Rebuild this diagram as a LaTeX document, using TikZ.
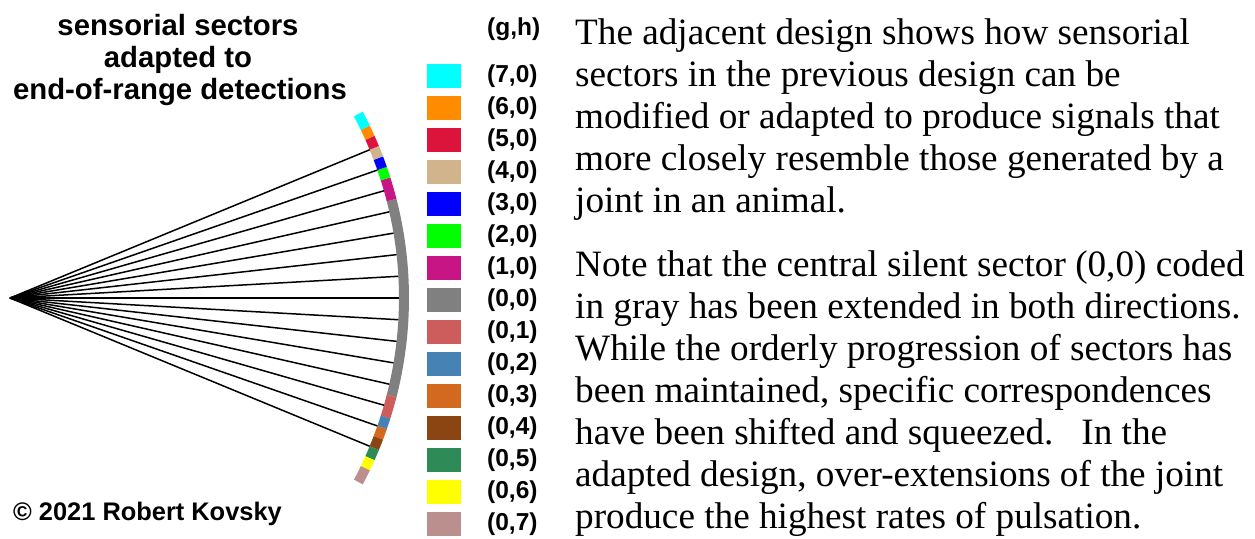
\documentclass[tikz,border=0pt]{standalone}
\usepackage{fontspec}
\setmainfont{Liberation Serif}
\newfontfamily\helv{Liberation Sans}

% sector colours
\definecolor{gCyan}{RGB}{0,255,255}
\definecolor{gOrange}{RGB}{255,140,0}
\definecolor{gCrimson}{RGB}{220,20,60}
\definecolor{gTan}{RGB}{210,180,140}
\definecolor{gBlue}{RGB}{0,0,255}
\definecolor{gLime}{RGB}{0,255,0}
\definecolor{gViolet}{RGB}{199,21,133}
\definecolor{gGray}{RGB}{128,128,128}
\definecolor{gIndian}{RGB}{205,92,92}
\definecolor{gSteel}{RGB}{70,130,180}
\definecolor{gChoc}{RGB}{210,105,30}
\definecolor{gSaddle}{RGB}{139,69,19}
\definecolor{gSea}{RGB}{46,139,87}
\definecolor{gYellow}{RGB}{255,255,0}
\definecolor{gRosy}{RGB}{188,143,143}

% one coloured piece of the sensor band, angles in degrees (positive = upward)
\newcommand\bandseg[3]{%
  \fill[#1] ({-1*(#2)}:389) arc[start angle={-1*(#2)}, end angle={-1*(#3)}, radius=389]
    -- ({-1*(#3)}:399) arc[start angle={-1*(#3)}, end angle={-1*(#2)}, radius=399] -- cycle;}

\begin{document}
\begin{tikzpicture}[x=1pt,y=-1pt,
  ray/.style={draw=black, line width=1.5pt},
  swatch/.style={minimum width=34pt, minimum height=24pt, inner sep=0pt, outer sep=0pt},
  legendlab/.style={anchor=west, inner sep=0pt, font=\helv\bfseries\fontsize{24.5}{28}\selectfont},
  titletext/.style={anchor=base, inner sep=0pt, font=\helv\bfseries\fontsize{29.3}{32}\selectfont},
  bodyline/.style={anchor=base west, inner sep=0pt, font=\fontsize{37.2}{42}\selectfont}]
\useasboundingbox (0,0) rectangle (1255,538);

% apex of the fan
\coordinate (apex) at (10,298);

% sensor band, made of coloured sectors
\begin{scope}[shift={(apex)}]
  \bandseg{gGray}{-14.4}{14.4}
  \bandseg{gViolet}{14.4}{17.6}
  \bandseg{gLime}{17.6}{19.2}
  \bandseg{gBlue}{19.2}{20.8}
  \bandseg{gTan}{20.8}{22.4}
  \bandseg{gCrimson}{22.4}{24.0}
  \bandseg{gOrange}{24.0}{25.6}
  \bandseg{gCyan}{25.6}{27.84}
  \bandseg{gIndian}{-17.6}{-14.4}
  \bandseg{gSteel}{-19.2}{-17.6}
  \bandseg{gChoc}{-20.8}{-19.2}
  \bandseg{gSaddle}{-22.4}{-20.8}
  \bandseg{gSea}{-24.0}{-22.4}
  \bandseg{gYellow}{-25.6}{-24.0}
  \bandseg{gRosy}{-27.84}{-25.6}
  \foreach \k in {-7,...,7}
    \coordinate (end\k) at ({\k*3.2}:389);
\end{scope}

% rays from the apex to the band
\foreach \k in {-7,...,7}
  \draw[ray] (apex) -- (end\k);

% title
\node[titletext] (title1) at (178,35) {sensorial sectors};
\node[titletext] (title2) at (178,67) {adapted to};
\node[titletext] (title3) at (180,99) {end-of-range detections};

% copyright
\node[anchor=base west, inner sep=0pt, font=\helv\bfseries\fontsize{25.4}{28}\selectfont] (copy) at (13,520) {© 2021 Robert Kovsky};

% legend
\node[legendlab] (lbhead) at (487,29) {(g,h)};
\foreach \c/\lab [count=\i from 0] in {gCyan/{(7,0)}, gOrange/{(6,0)}, gCrimson/{(5,0)},
    gTan/{(4,0)}, gBlue/{(3,0)}, gLime/{(2,0)}, gViolet/{(1,0)}, gGray/{(0,0)},
    gIndian/{(0,1)}, gSteel/{(0,2)}, gChoc/{(0,3)}, gSaddle/{(0,4)}, gSea/{(0,5)},
    gYellow/{(0,6)}, gRosy/{(0,7)}} {
  \node[swatch, fill=\c] (sw\i) at (444,{76+32*\i}) {};
  \node[legendlab] (lb\i) at (487,{76+32*\i}) {\lab};
}

% explanatory text
\node[bodyline] (t1) at (575,44) {The adjacent design shows how sensorial};
\node[bodyline] (t2) at (575,86) {sectors in the previous design can be};
\node[bodyline] (t3) at (575,128) {modified or adapted to produce signals that};
\node[bodyline] (t4) at (575,170) {more closely resemble those generated by a};
\node[bodyline] (t5) at (575,212) {joint in an animal.};
\node[bodyline] (t6) at (575,276) {Note that the central silent sector (0,0) coded};
\node[bodyline] (t7) at (575,318) {in gray has been extended in both directions.};
\node[bodyline] (t8) at (575,360) {While the orderly progression of sectors has};
\node[bodyline] (t9) at (575,402) {been maintained, specific correspondences};
\node[bodyline] (t10) at (575,444) {have been shifted and squeezed.\ \ \ In the};
\node[bodyline] (t11) at (575,486) {adapted design, over-extensions of the joint};
\node[bodyline] (t12) at (575,528) {produce the highest rates of pulsation.};
\end{tikzpicture}
\end{document}
